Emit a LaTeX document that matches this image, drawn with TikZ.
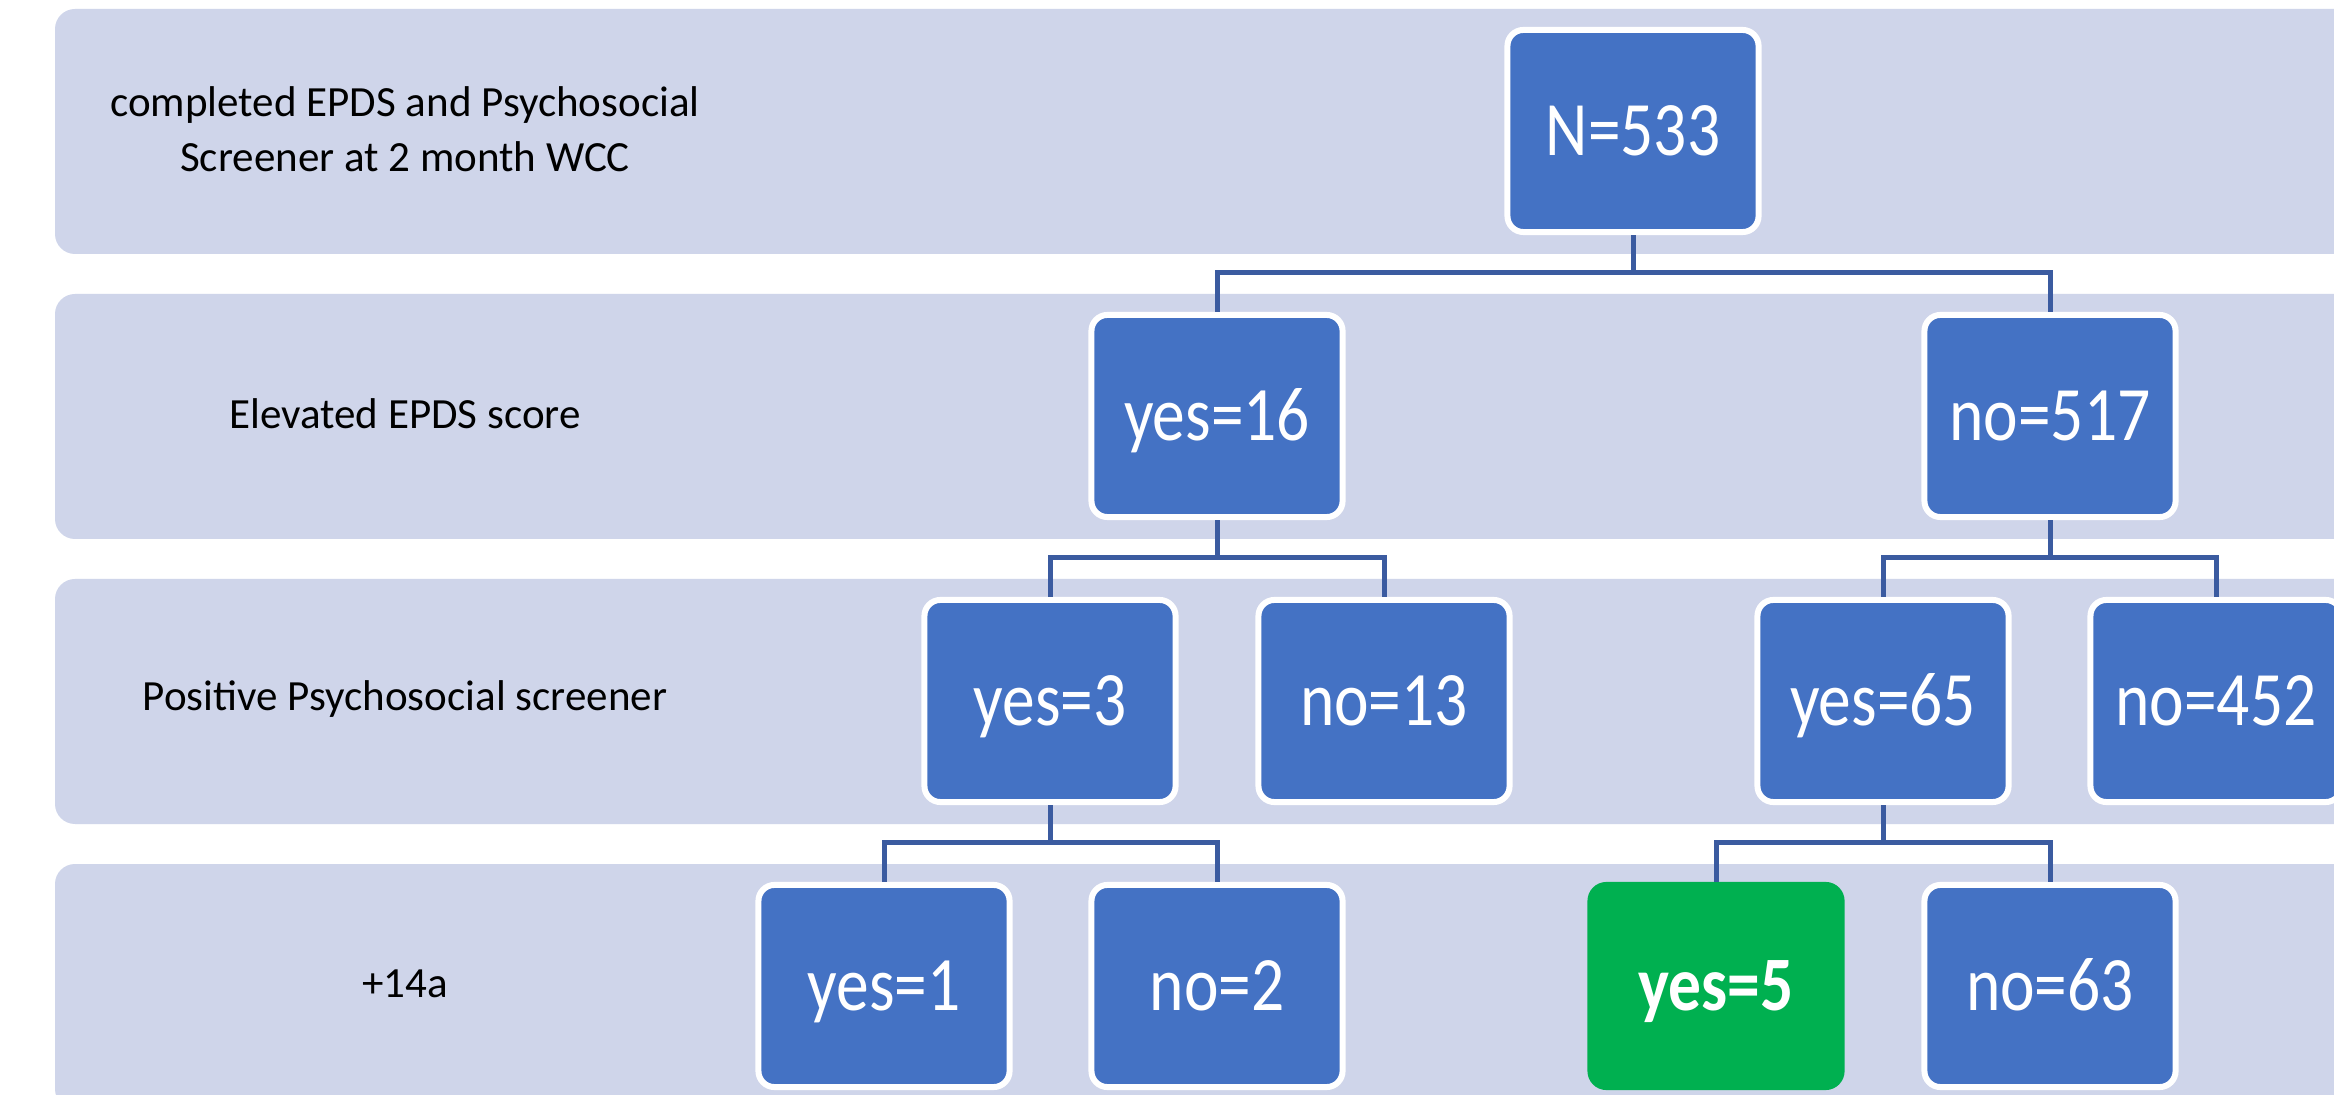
\documentclass[tikz,border=0pt]{standalone}
\usepackage{fontspec}
\setmainfont{Carlito}
\newfontfamily\boxfont[FakeStretch=0.85]{Carlito}
\usetikzlibrary{calc}
\definecolor{bandc}{RGB}{207,213,234}
\definecolor{boxblue}{RGB}{68,114,196}
\definecolor{boxgreen}{RGB}{0,176,80}
\definecolor{connc}{RGB}{59,91,160}
\begin{document}
\begin{tikzpicture}[x=0.01cm,y=-0.01cm,
  band/.style={fill=bandc, rounded corners=0.2cm},
  box/.style={rectangle, rounded corners=0.16cm, fill=boxblue, draw=white,
    line width=0.06cm, minimum width=2.51cm, minimum height=2.02cm,
    text=white, font=\boxfont\fontsize{21.9pt}{24pt}\selectfont,
    inner sep=0pt, text height=13.8pt, text depth=0pt},
  gbox/.style={box, fill=boxgreen, draw=boxgreen,
    font=\boxfont\bfseries\fontsize{21.9pt}{24pt}\selectfont},
  lbl/.style={align=center, font=\fontsize{12.24pt}{15.65pt}\selectfont, text=black},
  conn/.style={draw=connc, line width=0.05cm}]
\useasboundingbox (0,0) rectangle (2334,1095);
\clip (0,0) rectangle (2334,1095);
\fill[white] (0,0) rectangle (2334,1095);
\foreach \t in {9,294,579,864} \fill[band] (55,\t) rectangle (2450,\t+245);

% labels
\node[lbl] (l1) at (405,129) {completed EPDS and Psychosocial\\Screener at 2 month WCC};
\node[lbl] (l2) at (405,414) {Elevated EPDS score};
\node[lbl] (l3) at (405,699) {Positive Psychosocial screener};
\node[lbl] (l4) at (405,984) {+14a};

% boxes
\node[box] (n0) at (1633,131) {N=533};
\node[box] (y16) at (1217,416) {yes=16};
\node[box] (n517) at (2050,416) {no=517};
\node[box] (y3) at (1050,701) {yes=3};
\node[box] (n13) at (1384,701) {no=13};
\node[box] (y65) at (1883,701) {yes=65};
\node[box] (n452) at (2216,701) {no=452};
\node[box] (y1) at (884,986) {yes=1};
\node[box] (n2) at (1217,986) {no=2};
\node[gbox] (y5) at (1716,986) {yes=5};
\node[box] (n63) at (2050,986) {no=63};

% connectors
\foreach \p/\a/\b in {n0/y16/n517, y16/y3/n13, n517/y65/n452, y3/y1/n2, y65/y5/n63}{
  \draw[conn] (\p.south) -- ++(0,37);
  \draw[conn] (\a.north) |- ($(\p.south)+(0,37)$) -| (\b.north);
}
\end{tikzpicture}
\end{document}
